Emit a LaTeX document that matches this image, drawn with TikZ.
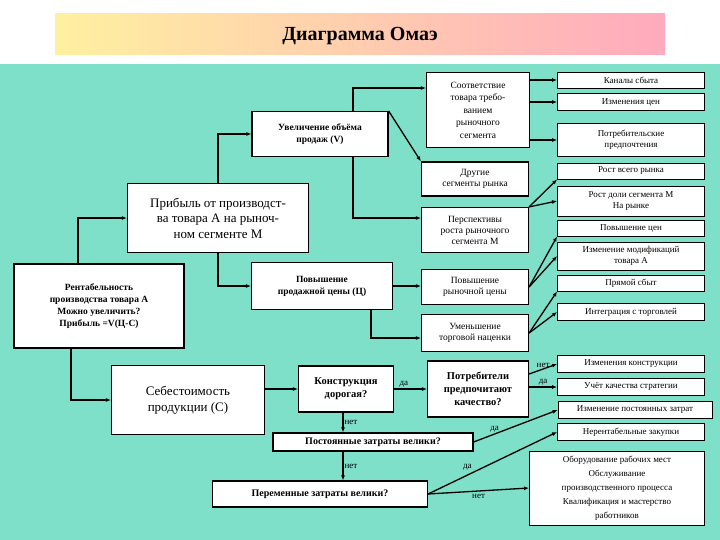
\documentclass[tikz,border=0pt]{standalone}
\usepackage{fontspec}
\setmainfont{Liberation Serif}
\usetikzlibrary{arrows.meta,shadings}
\begin{document}
\begin{tikzpicture}[x=1pt,y=-1pt,
 bx/.style={draw=black,line width=1.2pt,fill=white,align=center,inner sep=1pt,font=\fontsize{9.5}{11}\selectfont},
 rb/.style={draw=black,line width=0.8pt,fill=white,align=center,inner sep=1pt,font=\fontsize{9}{11}\selectfont},
 bb/.style={bx,font=\bfseries\fontsize{9.5}{12}\selectfont},
 ar/.style={-{Latex[length=5pt,width=4pt]},line width=1.3pt},
 lb/.style={font=\fontsize{9}{9}\selectfont,inner sep=1pt}]
\useasboundingbox (0,0) rectangle (720,540);
\fill[white] (0,0) rectangle (720,540);
\fill[fill={rgb,255:red,126;green,224;blue,200}] (0,64) rectangle (720,540);
\shade[left color={rgb,255:red,255;green,240;blue,160},right color={rgb,255:red,255;green,170;blue,190}] (55,14) rectangle (665,55);
\node[font=\bfseries\fontsize{20}{22}\selectfont] (title) at (360,36) {Диаграмма Омаэ};
% left chain
\node[bb,minimum width=136,minimum height=45] (V) at (320,134) {Увеличение объёма\\продаж (V)};
\node[bx,minimum width=181,minimum height=69,font=\fontsize{13}{15.5}\selectfont] (P) at (218,218) {Прибыль от производст-\\ва товара А на рыноч-\\ном сегменте М};
\node[bb,minimum width=170,minimum height=84] (R) at (99,306) {Рентабельность\\производства товара А\\Можно увеличить?\\Прибыль =V(Ц-С)};
\node[bb,minimum width=141,minimum height=47] (C1) at (322,286) {Повышение\\продажной цены (Ц)};
\node[bx,minimum width=153,minimum height=69,font=\fontsize{13}{16}\selectfont] (S) at (188,400) {Себестоимость\\продукции (С)};
\node[bb,minimum width=95,minimum height=46,font=\bfseries\fontsize{10.5}{13}\selectfont] (K) at (346,389) {Конструкция\\дорогая?};
\node[bb,minimum width=101,minimum height=56,font=\bfseries\fontsize{10.5}{13}\selectfont] (Q) at (478,389) {Потребители\\предпочитают\\качество?};
\node[bb,minimum width=200,minimum height=18,font=\bfseries\fontsize{10}{12}\selectfont] (F) at (373,442) {Постоянные затраты велики?};
\node[bb,minimum width=215,minimum height=26,font=\bfseries\fontsize{10}{12}\selectfont] (Vr) at (320,494) {Переменные затраты велики?};
% middle column
\node[bx,minimum width=103,minimum height=75,font=\fontsize{9.5}{12.5}\selectfont] (M1) at (478,110) {Соответствие\\товара требо-\\ванием\\рыночного\\сегмента};
\node[bx,minimum width=107,minimum height=34] (M2) at (475,179) {Другие\\сегменты рынка};
\node[bx,minimum width=107,minimum height=45] (M3) at (475,230) {Перспективы\\роста рыночного\\сегмента М};
\node[bx,minimum width=107,minimum height=35] (M4) at (475,287) {Повышение\\рыночной цены};
\node[bx,minimum width=107,minimum height=37] (M5) at (475,333) {Уменьшение\\торговой наценки};
% right column
\node[rb,minimum width=147,minimum height=16] (r1) at (631,80) {Каналы сбыта};
\node[rb,minimum width=147,minimum height=17] (r2) at (631,102) {Изменения цен};
\node[rb,minimum width=147,minimum height=33] (r3) at (631,140) {Потребительские\\предпочтения};
\node[rb,minimum width=147,minimum height=16] (r4) at (631,171) {Рост всего рынка};
\node[rb,minimum width=147,minimum height=30] (r5) at (631,201) {Рост доли сегмента М\\На рынке};
\node[rb,minimum width=147,minimum height=16] (r6) at (631,228) {Повышение цен};
\node[rb,minimum width=147,minimum height=28] (r7) at (631,256) {Изменение модификаций\\товара А};
\node[rb,minimum width=147,minimum height=16] (r8) at (631,283) {Прямой сбыт};
\node[rb,minimum width=147,minimum height=17] (r9) at (631,312) {Интеграция с торговлей};
\node[rb,minimum width=147,minimum height=17] (r10) at (631,364) {Изменения конструкции};
\node[rb,minimum width=147,minimum height=17] (r11) at (631,387) {Учёт качества стратегии};
\node[rb,minimum width=154,minimum height=17] (r12) at (635,410) {Изменение постоянных затрат};
\node[rb,minimum width=147,minimum height=17] (r13) at (631,432) {Нерентабельные закупки};
\node[rb,minimum width=175,minimum height=74,font=\fontsize{9}{14}\selectfont] (r14) at (617,488) {Оборудование рабочих мест\\Обслуживание\\производственного процесса\\Квалификация и мастерство\\работников};
% connectors
\draw[ar] (R.north -| 78,0) |- (P.west);
\draw[ar] (P.north) |- (V.west);
\draw[ar] (P.south) |- (C1.west);
\draw[ar] (V.north -| 353,0) |- (M1.west |- 0,88);
\draw[ar] (V.north east) -- (M2.north west);
\draw[ar] (V.south -| 353,0) |- (M3.west |- 0,218);
\draw[ar] (C1.east) -- (M4.west |- C1.east);
\draw[ar] (C1.south -| 371,0) |- (M5.west |- 0,338);
\draw[ar] (R.south -| 71,0) |- (S.west);
\draw[ar] (S.east |- K.west) -- (K.west);
\draw[ar] (K.east) -- node[lb,above,pos=0.3]{да} (Q.west);
\draw[ar] (K.south -| 343,0) -- node[lb,right]{нет} (F.north -| 343,0);
\draw[ar] (F.south -| 343,0) -- node[lb,right]{нет} (Vr.north -| 343,0);
\draw[ar] (Q.east |- 0,374) -- node[lb,above]{нет} (r10.west);
\draw[ar] (Q.east |- 0,387) -- node[lb,above]{да} (r11.west);
\draw[ar] (F.east) -- node[lb,above,pos=0.25]{да} (r12.west);
\draw[ar] (Vr.east) -- node[lb,above left,pos=0.35]{да} (r13.west);
\draw[ar] (Vr.east) -- node[lb,below=2pt,pos=0.5]{нет} (r14.west);
\draw[ar] (M1.east |- r1.west) -- (r1.west);
\draw[ar] (M1.east |- r2.west) -- (r2.west);
\draw[ar] (M1.east |- r3.west) -- (r3.west);
\draw[ar] (M3.north east) -- (r4.south west);
\draw[ar] (M3.north east) -- (r5.west);
\draw[ar] (M4.east) -- (r6.south west);
\draw[ar] (M4.east) -- (r7.west);
\draw[ar] (M5.east) -- (r8.south west);
\draw[ar] (M5.east) -- (r9.west);
\end{tikzpicture}
\end{document}
